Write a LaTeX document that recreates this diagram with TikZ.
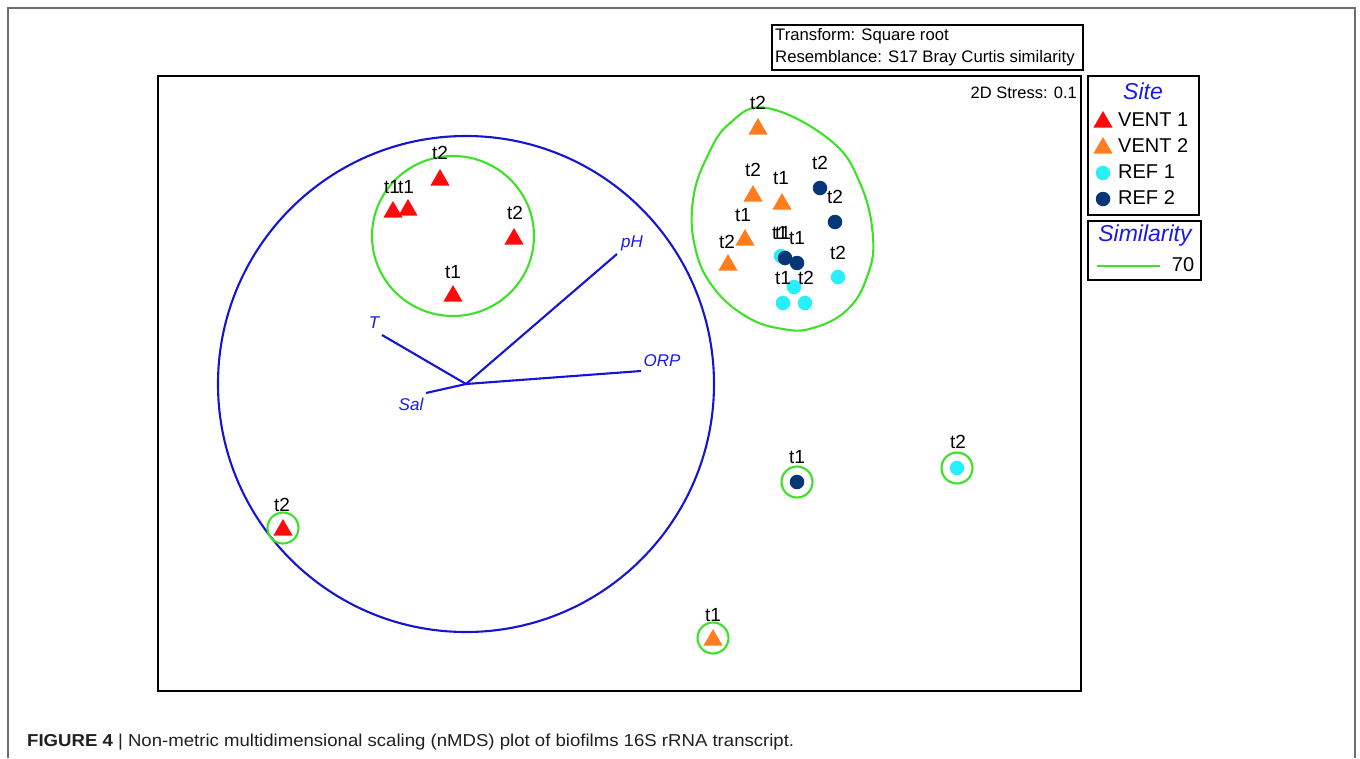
\documentclass[tikz,border=0pt]{standalone}
\usepackage{fontspec}
\setmainfont{Liberation Sans}
\usetikzlibrary{shapes.geometric}
\definecolor{vred}{RGB}{255,10,10}
\definecolor{vorange}{RGB}{255,125,30}
\definecolor{rcyan}{RGB}{40,240,250}
\definecolor{rnavy}{RGB}{5,55,120}
\definecolor{sgreen}{RGB}{60,225,40}
\definecolor{vblue}{RGB}{20,20,210}
\definecolor{tblue}{RGB}{25,25,235}
\definecolor{framegray}{RGB}{110,110,110}
\definecolor{captext}{RGB}{35,31,32}
\begin{document}
\begin{tikzpicture}[x=1pt,y=-1pt,
  lab/.style={font=\fontsize{19}{21}\selectfont, inner sep=0pt},
  tri/.style={regular polygon, regular polygon sides=3, minimum size=22pt, inner sep=0pt},
  vone/.style={tri, fill=vred},
  vtwo/.style={tri, fill=vorange},
  dotm/.style={circle, minimum size=14.5pt, inner sep=0pt},
  rone/.style={dotm, fill=rcyan},
  rtwo/.style={dotm, fill=rnavy},
  simline/.style={draw=sgreen, line width=2.1pt},
  vec/.style={draw=vblue, line width=2.1pt},
  vlab/.style={font=\fontsize{17}{19}\selectfont\itshape, text=tblue, inner sep=0pt},
  boxline/.style={draw=black, line width=1.8pt},
  legtext/.style={font=\fontsize{20}{22}\selectfont, inner sep=0pt, anchor=west},
  legtitle/.style={font=\fontsize{23}{25}\selectfont\itshape, text=tblue, inner sep=0pt},
  infotext/.style={font=\fontsize{16.7}{19}\selectfont, inner sep=0pt, anchor=west}
]
\useasboundingbox (0,0) rectangle (1360,758);

% outer page frame
\draw[framegray, line width=1.4pt] (8,758) -- (8,8) -- (1355,8) -- (1355,758);

% plot frame
\draw[boxline] (158,76) rectangle (1081,691);

% info box
\draw[boxline] (772,25) rectangle (1083,70);
\node[infotext] (tf) at (775,36) {Transform: Square root};
\node[infotext] (rs) at (775,58) {Resemblance: S17 Bray Curtis similarity};
\node[font=\fontsize{16.5}{18}\selectfont, inner sep=0pt, anchor=east] (st) at (1077,93) {2D Stress: 0.1};

% big blue circle and vectors
\coordinate (o) at (466,384);
\draw[vec] (o) circle[radius=248pt];
\coordinate (pHe) at (617,254);
\coordinate (Te) at (382,335);
\coordinate (ORPe) at (641,371);
\coordinate (Sale) at (426,393);
\draw[vec] (o) -- (pHe);
\draw[vec] (o) -- (Te);
\draw[vec] (o) -- (ORPe);
\draw[vec] (o) -- (Sale);
\node[vlab] (pH) at (632,243) {pH};
\node[vlab] (T) at (374,323) {T};
\node[vlab] (ORP) at (662,361) {ORP};
\node[vlab] (Sal) at (411,404) {Sal};

% similarity contours
\draw[simline] (453,236) ellipse[x radius=81pt, y radius=80pt];
\draw[simline] plot[smooth cycle, tension=0.7] coordinates {(767,108) (830,140) (860,183) (873,237) (867,277) (847,310) (813,328) (783,329) (747,317) (713,287) (695,247) (693,200) (707,157) (730,123)};
\draw[simline] (283,528) circle[radius=15.5pt];
\draw[simline] (713,638) circle[radius=15.5pt];
\draw[simline] (797,482) circle[radius=15.5pt];
\draw[simline] (957,468) circle[radius=15.5pt];

% VENT 1
\node[vone] (a1) at (440,180) {};
\node[vone] (a2) at (393,212) {};
\node[vone] (a3) at (408,210) {};
\node[vone] (a4) at (514,239) {};
\node[vone] (a5) at (453,296) {};
\node[vone] (a6) at (283,530) {};
\node[lab] (la1) at (440,153) {t2};
\node[lab] (la2) at (392,187) {t1};
\node[lab] (la3) at (406,187) {t1};
\node[lab] (la4) at (515,213) {t2};
\node[lab] (la5) at (453,272) {t1};
\node[lab] (la6) at (282,505) {t2};

% VENT 2
\node[vtwo] (b1) at (758,129) {};
\node[vtwo] (b2) at (753,196) {};
\node[vtwo] (b3) at (782,204) {};
\node[vtwo] (b4) at (745,240) {};
\node[vtwo] (b5) at (728,265) {};
\node[vtwo] (b6) at (713,640) {};
\node[lab] (lb1) at (758,103) {t2};
\node[lab] (lb2) at (753,170) {t2};
\node[lab] (lb3) at (781,178) {t1};
\node[lab] (lb4) at (743,215) {t1};
\node[lab] (lb5) at (727,242) {t2};
\node[lab] (lb6) at (713,615) {t1};

% REF 1
\node[rone] (d1) at (781,256) {};
\node[rone] (d2) at (838,277) {};
\node[rone] (d3) at (794,287) {};
\node[rone] (d4) at (783,303) {};
\node[rone] (d5) at (805,303) {};
\node[rone] (d6) at (957,468) {};

% REF 2
\node[rtwo] (c1) at (820,188) {};
\node[rtwo] (c2) at (835,222) {};
\node[rtwo] (c3) at (785,258) {};
\node[rtwo] (c4) at (797,263) {};
\node[rtwo] (c5) at (797,482) {};

\node[lab] (lc1) at (820,163) {t2};
\node[lab] (lc2) at (835,197) {t2};
\node[lab] (lc3) at (780,233) {t1};
\node[lab] (lc3b) at (783,233) {t1};
\node[lab] (lc4) at (797,238) {t1};
\node[lab] (ld2) at (838,253) {t2};
\node[lab] (ld3) at (783,278) {t1};
\node[lab] (ld4) at (806,278) {t2};
\node[lab] (lc5) at (797,457) {t1};
\node[lab] (ld6) at (958,442) {t2};

% legend: Site
\draw[boxline] (1088,76) rectangle (1199,215);
\node[legtitle] (site) at (1143,91) {Site};
\node[vone] (k1) at (1103,122) {};
\node[legtext] (kt1) at (1118,120) {VENT 1};
\node[vtwo] (k2) at (1103,148) {};
\node[legtext] (kt2) at (1118,146) {VENT 2};
\node[rone] (k3) at (1103,173) {};
\node[legtext] (kt3) at (1118,172) {REF 1};
\node[rtwo] (k4) at (1103,199) {};
\node[legtext] (kt4) at (1118,198) {REF 2};

% legend: Similarity
\draw[boxline] (1088,221) rectangle (1201,280);
\node[legtitle] (sim) at (1145,236) {Similarity};
\coordinate (g1) at (1097,266);
\coordinate (g2) at (1160,266);
\draw[simline] (g1) -- (g2);
\node[font=\fontsize{20}{22}\selectfont, inner sep=0pt] (s70) at (1183,265) {70};

% caption
\node[anchor=base west, inner sep=0pt, text=captext] (cap) at (27,746)
  {\resizebox{767pt}{12.5pt}{\textbf{FIGURE 4} | Non-metric multidimensional scaling (nMDS) plot of biofilms 16S rRNA transcript.}};
\end{tikzpicture}
\end{document}
